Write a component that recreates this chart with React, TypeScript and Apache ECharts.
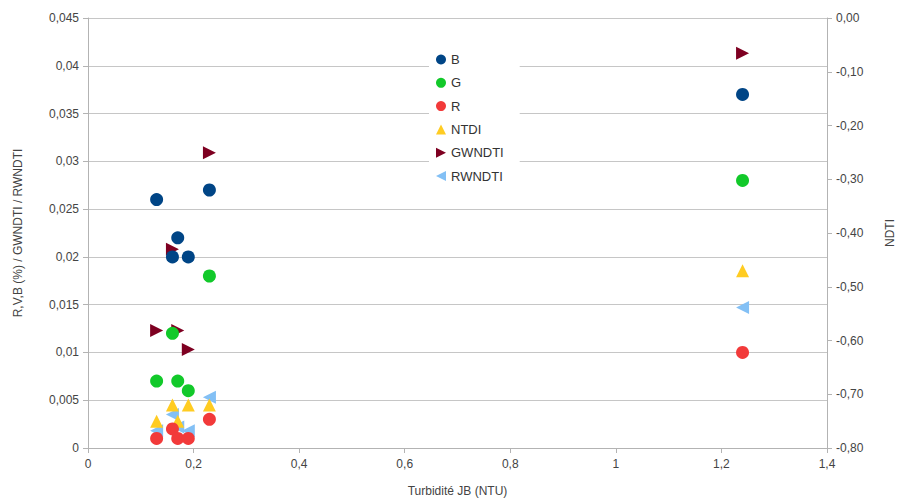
import React, { useEffect, useRef } from "react";
import * as echarts from "echarts";

const turbidity = [0.13, 0.16, 0.17, 0.19, 0.23, 1.24];
const bValues = [0.026, 0.020, 0.022, 0.020, 0.027, 0.037];
const gValues = [0.007, 0.012, 0.007, 0.006, 0.018, 0.028];
const rValues = [0.001, 0.002, 0.001, 0.001, 0.003, 0.010];
const ntdiValues = [-0.75, -0.72, -0.75, -0.72, -0.72, -0.47];
const gwndtiValues = [0.0123, 0.0208, 0.0123, 0.0103, 0.0309, 0.0413];
const rwndtiValues = [0.0018, 0.0035, 0.0022, 0.0018, 0.0053, 0.0147];
const seriesNames = ["B", "G", "R", "NTDI", "GWNDTI", "RWNDTI"];

const pair = (ys: number[]) => turbidity.map((x, i) => [x, ys[i]]);

const RIGHT_TRI = "path://M0,0 L10,5 L0,10 Z";
const LEFT_TRI = "path://M10,0 L0,5 L10,10 Z";

export default function App() {
  const ref = useRef<HTMLDivElement>(null);
  useEffect(() => {
    if (!ref.current) return;
    const chart = echarts.init(ref.current, undefined, { renderer: "svg" });
    const font = "'Liberation Sans', Arial, sans-serif";
    const axisColor = "#b3b3b3";
    const labelColor = "#444";
    chart.setOption({
      animation: false,
      textStyle: { fontFamily: font },
      grid: { left: 88, right: 70, top: 18, bottom: 53, containLabel: false },
      legend: {
        data: seriesNames,
        orient: "vertical",
        left: 429,
        top: 48,
        padding: [5, 16, 8, 7],
        itemGap: 10.3,
        itemWidth: 10,
        itemHeight: 10,
        backgroundColor: "#ffffff",
        textStyle: { fontSize: 13, color: "#333", fontFamily: font },
      },
      xAxis: {
        type: "value",
        min: 0,
        max: 1.4,
        interval: 0.2,
        name: "Turbidité JB (NTU)",
        nameLocation: "middle",
        nameGap: 37,
        nameTextStyle: { fontSize: 12, color: labelColor },
        axisLine: { show: true, onZero: false, lineStyle: { color: axisColor } },
        axisTick: { show: true, length: 5, lineStyle: { color: axisColor } },
        splitLine: { show: false },
        axisLabel: {
          fontSize: 12,
          color: labelColor,
          margin: 10,
          formatter: (v: number) => String(Number(v.toFixed(1))).replace(".", ","),
        },
      },
      yAxis: [
        {
          type: "value",
          min: 0,
          max: 0.045,
          interval: 0.005,
          position: "left",
          name: "R,V,B (%) / GWNDTI / RWNDTI",
          nameLocation: "middle",
          nameRotate: 90,
          nameGap: 64,
          nameTextStyle: { fontSize: 12, color: labelColor },
          axisLine: { show: true, lineStyle: { color: axisColor } },
          axisTick: { show: true, length: 5, lineStyle: { color: axisColor } },
          splitLine: { show: true, lineStyle: { color: "#c6c6c6" } },
          axisLabel: {
            fontSize: 12,
            color: labelColor,
            margin: 9,
            formatter: (v: number) => String(Number(v.toFixed(3))).replace(".", ","),
          },
        },
        {
          type: "value",
          min: -0.8,
          max: 0,
          interval: 0.1,
          position: "right",
          name: "NDTI",
          nameLocation: "middle",
          nameRotate: 90,
          nameGap: 57,
          nameTextStyle: { fontSize: 12, color: labelColor },
          axisLine: { show: true, lineStyle: { color: axisColor } },
          axisTick: { show: true, length: 5, lineStyle: { color: axisColor } },
          splitLine: { show: false },
          axisLabel: {
            fontSize: 12,
            color: labelColor,
            margin: 9,
            formatter: (v: number) => v.toFixed(2).replace(".", ","),
          },
        },
      ],
      series: [
        { name: "B", type: "scatter", data: pair(bValues), symbol: "circle", symbolSize: 13, itemStyle: { color: "#004586", opacity: 1 }, z: 6 },
        { name: "G", type: "scatter", data: pair(gValues), symbol: "circle", symbolSize: 13, itemStyle: { color: "#12c92a", opacity: 1 }, z: 5 },
        { name: "R", type: "scatter", data: pair(rValues), symbol: "circle", symbolSize: 13, itemStyle: { color: "#f23a3a", opacity: 1 }, z: 4 },
        { name: "NTDI", type: "scatter", yAxisIndex: 1, data: pair(ntdiValues), symbol: "triangle", symbolSize: 13, itemStyle: { color: "#ffcc22", opacity: 1 }, z: 3 },
        { name: "GWNDTI", type: "scatter", data: pair(gwndtiValues), symbol: RIGHT_TRI, symbolSize: 13, itemStyle: { color: "#7e0021", opacity: 1 }, z: 2 },
        { name: "RWNDTI", type: "scatter", data: pair(rwndtiValues), symbol: LEFT_TRI, symbolSize: 13, itemStyle: { color: "#83c0f5", opacity: 1 }, z: 2 },
      ],
    });
    return () => chart.dispose();
  }, []);
  return <div ref={ref} style={{ width: 904, height: 502, position: "fixed", left: 0, top: 0, background: "#fff" }} />;
}
